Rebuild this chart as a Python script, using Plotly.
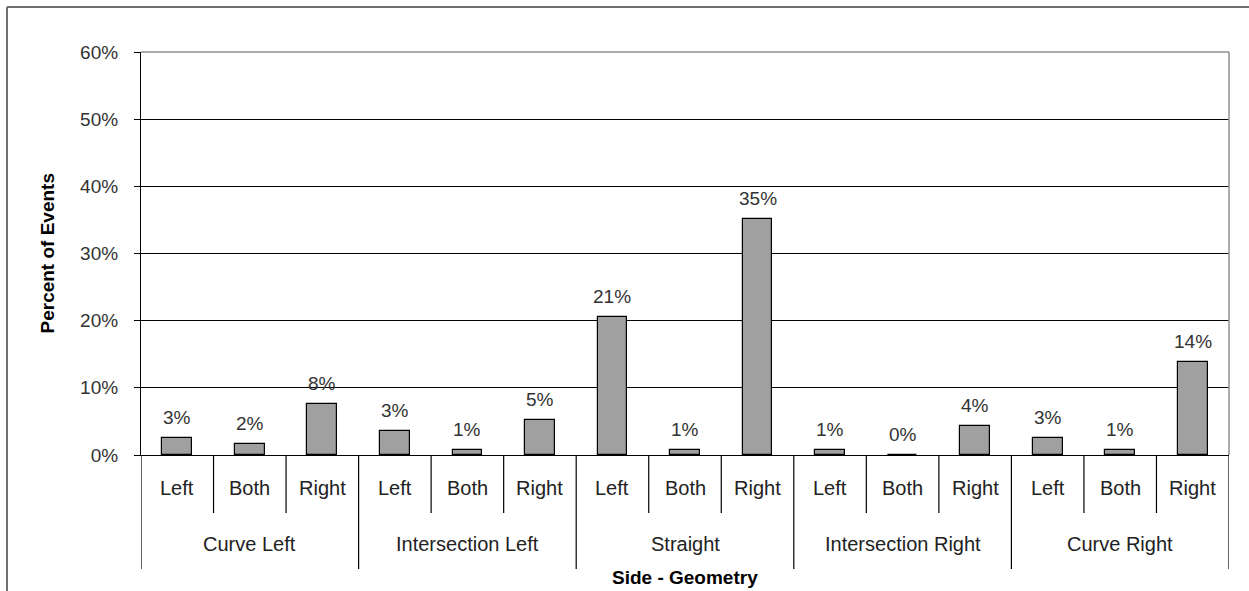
import plotly.graph_objects as go

groups = ["Curve Left", "Intersection Left", "Straight", "Intersection Right", "Curve Right"]
sides = ["Left", "Both", "Right"]
values = [0.025, 0.017, 0.076,
          0.035, 0.008, 0.052,
          0.206, 0.008, 0.351,
          0.008, 0.000, 0.043,
          0.025, 0.008, 0.138]
value_labels = ["3%", "2%", "8%",
                "3%", "1%", "5%",
                "21%", "1%", "35%",
                "1%", "0%", "4%",
                "3%", "1%", "14%"]
y_ticks = [0, 0.1, 0.2, 0.3, 0.4, 0.5, 0.6]

FONT = "Arial, Liberation Sans, sans-serif"
W, H = 1249, 591
L, R, T, B = 141, 20, 52, 136
PW, PH = W - L - R, H - T - B

def px_x(p):
    return (p - L) / PW

def px_y(p):
    return (H - B - p) / PH

n = len(values)
xs = list(range(n))

fig = go.Figure()
fig.add_trace(go.Bar(
    x=xs, y=values, width=0.41,
    marker=dict(color="#A0A0A0", line=dict(color="#000000", width=1.2)),
    hoverinfo="skip",
))

annotations = []
for i, (v, t) in enumerate(zip(values, value_labels)):
    annotations.append(dict(x=i, y=v, xref="x", yref="y", text=t, showarrow=False,
                            xanchor="center", yanchor="bottom", yshift=8,
                            font=dict(family=FONT, size=19, color="#333333")))

shapes = []
sub_label_y = px_y(488)
grp_label_y = px_y(544)
sub_div_end = px_y(513)
grp_div_end = px_y(569)

for i in range(n):
    annotations.append(dict(x=i, y=sub_label_y, xref="x", yref="paper",
                            text=sides[i % 3], showarrow=False,
                            xanchor="center", yanchor="middle",
                            font=dict(family=FONT, size=20, color="#222222")))
for g, name in enumerate(groups):
    annotations.append(dict(x=g * 3 + 1, y=grp_label_y, xref="x", yref="paper",
                            text=name, showarrow=False,
                            xanchor="center", yanchor="middle",
                            font=dict(family=FONT, size=20, color="#222222")))

for k in range(n + 1):
    xb = k - 0.5
    end = grp_div_end if k % 3 == 0 else sub_div_end
    shapes.append(dict(type="line", xref="x", yref="paper", x0=xb, x1=xb,
                       y0=0, y1=end, line=dict(color="#000000", width=1.2)))

# plot area top and right borders (gray)
shapes.append(dict(type="line", xref="paper", yref="paper", x0=0, x1=1, y0=1, y1=1,
                   line=dict(color="#909090", width=1.5)))
shapes.append(dict(type="line", xref="paper", yref="paper", x0=1, x1=1, y0=0, y1=1,
                   line=dict(color="#909090", width=1.5)))
# outer chart border (left and top)
shapes.append(dict(type="line", xref="paper", yref="paper",
                   x0=px_x(7), x1=px_x(7), y0=px_y(591), y1=px_y(7),
                   line=dict(color="#707070", width=2)))
shapes.append(dict(type="line", xref="paper", yref="paper",
                   x0=px_x(7), x1=px_x(1249), y0=px_y(7), y1=px_y(7),
                   line=dict(color="#707070", width=2)))

annotations.append(dict(x=0.5, y=px_y(577), xref="paper", yref="paper",
                        text="<b>Side - Geometry</b>", showarrow=False,
                        xanchor="center", yanchor="middle",
                        font=dict(family=FONT, size=19, color="#000000")))
annotations.append(dict(x=px_x(47), y=0.5, xref="paper", yref="paper",
                        text="<b>Percent of Events</b>", showarrow=False, textangle=-90,
                        xanchor="center", yanchor="middle",
                        font=dict(family=FONT, size=19, color="#000000")))

fig.update_layout(
    width=W, height=H,
    margin=dict(l=L, r=R, t=T, b=B),
    paper_bgcolor="white", plot_bgcolor="white",
    showlegend=False,
    annotations=annotations,
    shapes=shapes,
    bargap=0,
)
fig.update_xaxes(range=[-0.5, n - 0.5], showticklabels=False, showgrid=False,
                 zeroline=False, showline=True, linecolor="#000000", linewidth=1.2,
                 ticks="", fixedrange=True)
fig.update_yaxes(range=[0, 0.6], tickvals=y_ticks, tickformat=".0%",
                 showgrid=True, gridcolor="#000000", gridwidth=1,
                 zeroline=False, showline=True, linecolor="#000000", linewidth=1.2,
                 ticks="outside", ticklen=6, tickcolor="#000000",
                 ticklabelstandoff=12,
                 tickfont=dict(family=FONT, size=19, color="#333333"),
                 fixedrange=True)

fig.write_html("out.html", config={"displayModeBar": False},
               post_script="document.body.style.margin='0';document.body.style.padding='0';")
